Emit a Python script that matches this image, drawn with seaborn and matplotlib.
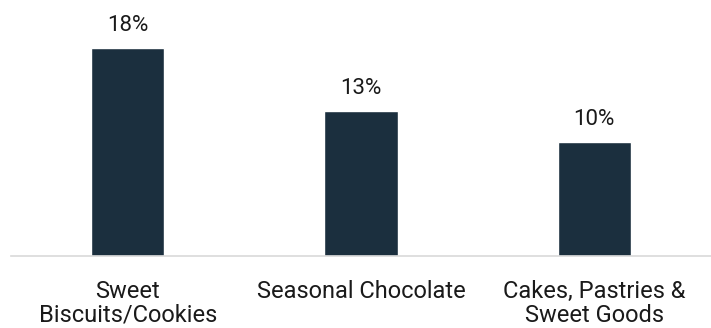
import matplotlib
matplotlib.use("Agg")
import matplotlib.pyplot as plt
import seaborn as sns
import pandas as pd

categories = ["Sweet\nBiscuits/Cookies", "Seasonal Chocolate", "Cakes, Pastries &\nSweet Goods"]
values = [18.2, 12.7, 10.0]
labels = ["18%", "13%", "10%"]

sns.set_style("white")
plt.rcParams['font.family'] = ['Roboto', 'DejaVu Sans']

df = pd.DataFrame({"cat": categories, "val": values})
fig = plt.figure(figsize=(7.11, 3.28), dpi=100)
ax = fig.add_axes([11/711, 1 - 256/328, 1 - 11/711, 256/328])
sns.barplot(data=df, x="cat", y="val", color="#1b2f3e", width=0.313, saturation=1, ax=ax)
ax.set_xlim(-0.5, 2.5)
ax.set_ylim(0, 22.4)
for i, (v, l) in enumerate(zip(values, labels)):
    ax.annotate(l, (i, v), xytext=(0, 8.5), textcoords="offset points",
                ha="center", va="bottom", fontsize=16, color="#1a1a1a")
for s in ["top", "right", "left"]:
    ax.spines[s].set_visible(False)
ax.spines["bottom"].set_color("#d9d9d9")
ax.spines["bottom"].set_linewidth(1.2)
ax.set_yticks([])
ax.set_xlabel("")
ax.set_ylabel("")
ax.tick_params(axis="x", length=0, pad=17, labelsize=17, colors="#1a1a1a")
for t in ax.get_xticklabels():
    t.set_linespacing(1.05)
fig.savefig("out.png", dpi=100)
